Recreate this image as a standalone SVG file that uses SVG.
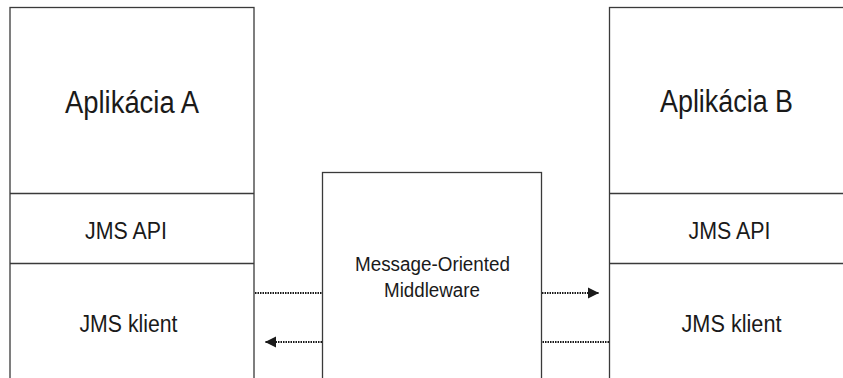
<svg xmlns="http://www.w3.org/2000/svg" width="843" height="378" viewBox="0 0 843 378">
<defs>
<marker id="ah" markerWidth="12" markerHeight="12" refX="11" refY="6" orient="auto" markerUnits="userSpaceOnUse">
<path d="M0,0.5 L11,6 L0,11.5 Z" fill="#1a1a1a"/>
</marker>
<style>
.box{fill:#fff;stroke:#3a3a3a;stroke-width:1.3}
.div{stroke:#3a3a3a;stroke-width:1.3}
.t{font-family:"Liberation Sans",Arial,sans-serif;fill:#1a1a1a;text-anchor:middle}
.dot{stroke:#1a1a1a;stroke-width:2;stroke-dasharray:1.5 1;fill:none}
</style>
</defs>
<rect width="843" height="378" fill="#fff"/>
<g id="appA">
<rect class="box" x="10" y="7.5" width="244" height="380"/>
<line class="div" x1="10" y1="193.5" x2="254" y2="193.5"/>
<line class="div" x1="10" y1="263.5" x2="254" y2="263.5"/>
<text class="t" x="132" y="113" font-size="31" textLength="134" lengthAdjust="spacingAndGlyphs">Aplikácia A</text>
<text class="t" x="126" y="238.5" font-size="23" textLength="82" lengthAdjust="spacingAndGlyphs">JMS API</text>
<text class="t" x="128.5" y="331.5" font-size="23" textLength="98" lengthAdjust="spacingAndGlyphs">JMS klient</text>
</g>
<g id="mom">
<rect class="box" x="322.5" y="172.5" width="219" height="220"/>
<text class="t" x="432.5" y="271" font-size="20" textLength="155" lengthAdjust="spacingAndGlyphs">Message-Oriented</text>
<text class="t" x="432" y="296.5" font-size="20" textLength="96" lengthAdjust="spacingAndGlyphs">Middleware</text>
</g>
<g id="appB">
<rect class="box" x="609.5" y="7.5" width="250" height="380"/>
<line class="div" x1="609.5" y1="193.5" x2="843" y2="193.5"/>
<line class="div" x1="609.5" y1="263.5" x2="843" y2="263.5"/>
<text class="t" x="726.5" y="111.5" font-size="31" textLength="133" lengthAdjust="spacingAndGlyphs">Aplikácia B</text>
<text class="t" x="729.5" y="238.5" font-size="23" textLength="82" lengthAdjust="spacingAndGlyphs">JMS API</text>
<text class="t" x="731.5" y="331.5" font-size="23" textLength="100" lengthAdjust="spacingAndGlyphs">JMS klient</text>
</g>
<g id="connectors">
<line class="dot" x1="255" y1="293" x2="322" y2="293"/>
<line class="dot" x1="542" y1="293" x2="599" y2="293" marker-end="url(#ah)"/>
<line class="dot" x1="609" y1="342" x2="542" y2="342"/>
<line class="dot" x1="322" y1="342" x2="265" y2="342" marker-end="url(#ah)"/>
</g>
</svg>
